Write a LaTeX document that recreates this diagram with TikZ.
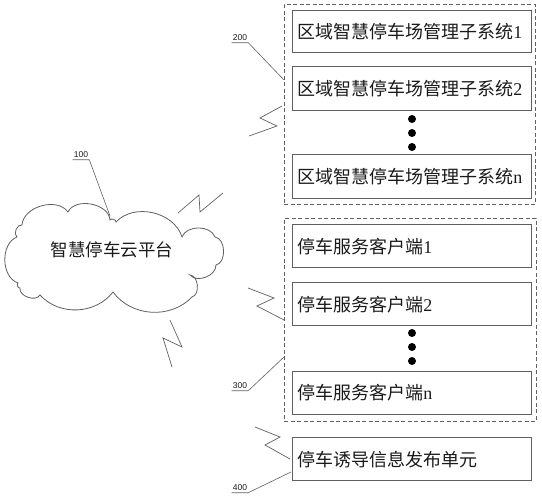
\documentclass[tikz,border=0pt]{standalone}
\usepackage{fontspec}
\setmainfont{Liberation Serif}
\newfontfamily\cjk{Noto Sans CJK SC}
\newfontfamily\lblfont{Liberation Sans}
\definecolor{linegray}{HTML}{606060}
\definecolor{txt}{HTML}{1A1A1A}
\begin{document}
\begin{tikzpicture}[x=1pt,y=-1pt,
  box/.style={draw=linegray, line width=1pt, anchor=west, text width=229pt, inner xsep=5pt,
    minimum height=43pt, align=left, text=txt, font=\fontsize{18}{20}\selectfont},
  dashbox/.style={draw=linegray, line width=0.8pt, dash pattern=on 4pt off 2.5pt, anchor=north west,
    inner sep=0pt},
  lbl/.style={font=\lblfont\fontsize{8.5}{9}\selectfont, text=txt, inner xsep=1pt, inner ysep=1.5pt},
  lead/.style={draw=linegray, line width=0.6pt},
  bolt/.style={draw=linegray, line width=0.7pt},
  dotm/.style={circle, fill=black, inner sep=0pt, minimum size=8pt},
  cloudline/.style={draw=linegray, line width=0.8pt}
]
\useasboundingbox (0,0) rectangle (542,500);

% cloud
\draw[cloudline] (22,225) to[bend left=70] (68,212) to[bend left=75] (110,220)
  to[bend left=80] (116,222) to[bend left=60] (182,237) to[bend left=70] (215,237)
  to[bend left=80] (216,265) to[bend left=70] (190,275) to[bend left=80] (192,297)
  to[bend left=50] (113,292) to[bend left=50] (40,295) to[bend left=80] (20,288)
  to[bend left=80] (18,283) to[bend left=70] (17,237) to[bend left=80] (22,225) -- cycle;
\node[text=txt, font=\cjk\fontsize{17.5}{19}\selectfont] (cloudtxt) at (112,250) {智慧停车云平台};

% dashed groups
\node[dashbox, minimum width=251pt, minimum height=200pt] (g200) at (284,4) {};
\node[dashbox, minimum width=252pt, minimum height=203pt] (g300) at (284,218) {};

% boxes group 200
\node[box, minimum height=42pt] (s1) at (292,32) {{\cjk 区域智慧停车场管理子系统}1};
\node[box, minimum height=44pt] (s2) at (292,89) {{\cjk 区域智慧停车场管理子系统}2};
\node[box, minimum height=44pt] (sn) at (292,177) {{\cjk 区域智慧停车场管理子系统}n};
\node[dotm] (d1) at (412,119) {};
\node[dotm] (d2) at (412,133) {};
\node[dotm] (d3) at (412,147) {};

% boxes group 300
\node[box] (c1) at (292,246.5) {{\cjk 停车服务客户端}1};
\node[box] (c2) at (292,304.5) {{\cjk 停车服务客户端}2};
\node[box] (cn) at (292,393) {{\cjk 停车服务客户端}n};
\node[dotm] (e1) at (412,333) {};
\node[dotm] (e2) at (412,347) {};
\node[dotm] (e3) at (412,361) {};

% box 400
\node[box] (u400) at (292,459.5) {{\cjk 停车诱导信息发布单元}};

% labels with leaders
\node[lbl] (l100) at (81,155) {100};
\coordinate (p100) at (110,216);
\draw[lead] (l100.south west) -- (l100.south east) -- (p100);

\node[lbl] (l200) at (240,38) {200};
\coordinate (p200) at (284,80);
\draw[lead] (l200.south west) -- (l200.south east) -- (p200);

\node[lbl] (l300) at (240,386) {300};
\coordinate (p300) at (284,357);
\draw[lead] (l300.south west) -- (l300.south east) -- (p300);

\node[lbl] (l400) at (240,488) {400};
\coordinate (p400) at (291,472);
\draw[lead] (l400.south west) -- (l400.south east) -- (p400);

% lightning symbols
\draw[bolt] (178,213) -- (199,195) -- (200,212) -- (223,193);
\draw[bolt] (282,106) -- (260,118) -- (277,126) -- (249,136);
\draw[bolt] (170,320) -- (182,347) -- (163,338) -- (172,367);
\draw[bolt] (248,288) -- (274,298) -- (257,306) -- (284,320);
\draw[bolt] (255,427) -- (280,437) -- (265,445) -- (290,459);
\end{tikzpicture}
\end{document}
